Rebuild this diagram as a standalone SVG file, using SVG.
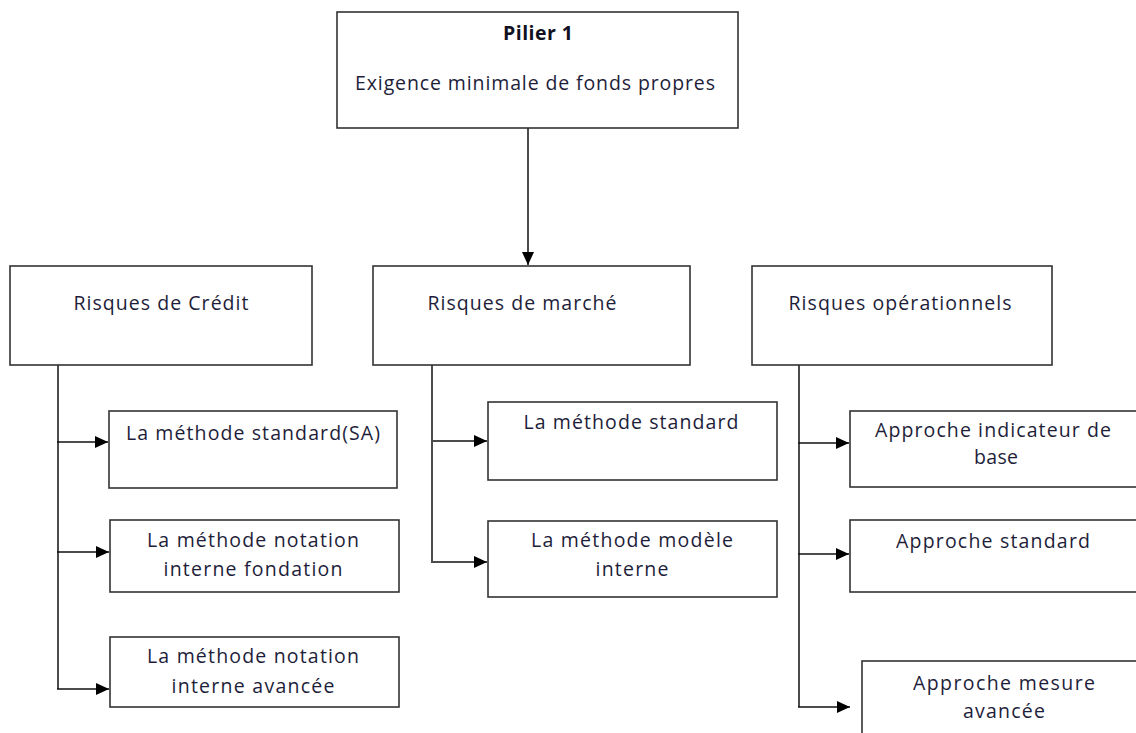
<svg xmlns="http://www.w3.org/2000/svg" width="1136" height="733" viewBox="0 0 1136 733">
<style>
.box{fill:#ffffff;stroke:#333333;stroke-width:1.6}
.t{font-family:"Open Sans","Liberation Sans",sans-serif;font-size:19.5px;fill:#1e1e3a;text-anchor:middle}
.b{font-weight:bold;fill:#111122}
.c{stroke:#111111;stroke-width:1.5;fill:none}
</style>
<defs>
<marker id="ah" markerUnits="userSpaceOnUse" markerWidth="14" markerHeight="12" refX="13" refY="6" orient="auto">
<path d="M0,0 L13,6 L0,12 Z" fill="#000000"/>
</marker>
</defs>
<rect width="1136" height="733" fill="#ffffff"/>
<g id="connectors">
<line class="c" x1="528" y1="128" x2="528" y2="265" marker-end="url(#ah)"/>
<line class="c" x1="58" y1="365" x2="58" y2="689"/>
<line class="c" x1="57" y1="442" x2="108" y2="442" marker-end="url(#ah)"/>
<line class="c" x1="57" y1="552" x2="109" y2="552" marker-end="url(#ah)"/>
<line class="c" x1="57" y1="689" x2="109" y2="689" marker-end="url(#ah)"/>
<line class="c" x1="432" y1="365" x2="432" y2="563"/>
<line class="c" x1="433" y1="441" x2="487" y2="441" marker-end="url(#ah)"/>
<line class="c" x1="433" y1="562" x2="487" y2="562" marker-end="url(#ah)"/>
<line class="c" x1="799" y1="365" x2="799" y2="707"/>
<line class="c" x1="798" y1="443" x2="849" y2="443" marker-end="url(#ah)"/>
<line class="c" x1="798" y1="554" x2="849" y2="554" marker-end="url(#ah)"/>
<line class="c" x1="798" y1="707" x2="850" y2="707" marker-end="url(#ah)"/>
</g>
<g id="pilier1">
<rect class="box" x="337" y="12" width="401" height="116"/>
<text class="t b" x="538" y="40" textLength="70">Pilier 1</text>
<text class="t" x="535" y="90" textLength="360">Exigence minimale de fonds propres</text>
</g>
<g id="credit">
<rect class="box" x="10" y="266" width="302" height="99"/>
<text class="t" x="161" y="310" textLength="175">Risques de Crédit</text>
</g>
<g id="marche">
<rect class="box" x="373" y="266" width="317" height="99"/>
<text class="t" x="522" y="310" textLength="189">Risques de marché</text>
</g>
<g id="operationnels">
<rect class="box" x="752" y="266" width="300" height="99"/>
<text class="t" x="900" y="310" textLength="223">Risques opérationnels</text>
</g>
<g id="credit-sa">
<rect class="box" x="109" y="411" width="288" height="77"/>
<text class="t" x="253" y="440" textLength="254">La méthode standard(SA)</text>
</g>
<g id="credit-fondation">
<rect class="box" x="110" y="520" width="289" height="72"/>
<text class="t" x="253" y="547" textLength="212">La méthode notation</text>
<text class="t" x="253" y="576" textLength="179">interne fondation</text>
</g>
<g id="credit-avancee">
<rect class="box" x="110" y="637" width="289" height="70"/>
<text class="t" x="253" y="663" textLength="212">La méthode notation</text>
<text class="t" x="253" y="693" textLength="163">interne avancée</text>
</g>
<g id="marche-standard">
<rect class="box" x="488" y="402" width="289" height="78"/>
<text class="t" x="631" y="429" textLength="215">La méthode standard</text>
</g>
<g id="marche-modele">
<rect class="box" x="488" y="521" width="289" height="76"/>
<text class="t" x="632" y="547" textLength="202">La méthode modèle</text>
<text class="t" x="632" y="576" textLength="73">interne</text>
</g>
<g id="op-base">
<rect class="box" x="850" y="411" width="300" height="76"/>
<text class="t" x="993" y="437" textLength="236">Approche indicateur de</text>
<text class="t" x="996" y="464" textLength="44">base</text>
</g>
<g id="op-standard">
<rect class="box" x="850" y="520" width="300" height="72"/>
<text class="t" x="993" y="548" textLength="194">Approche standard</text>
</g>
<g id="op-avancee">
<rect class="box" x="862" y="661" width="300" height="90"/>
<text class="t" x="1004" y="690" textLength="182">Approche mesure</text>
<text class="t" x="1004" y="718" textLength="82">avancée</text>
</g>
</svg>
